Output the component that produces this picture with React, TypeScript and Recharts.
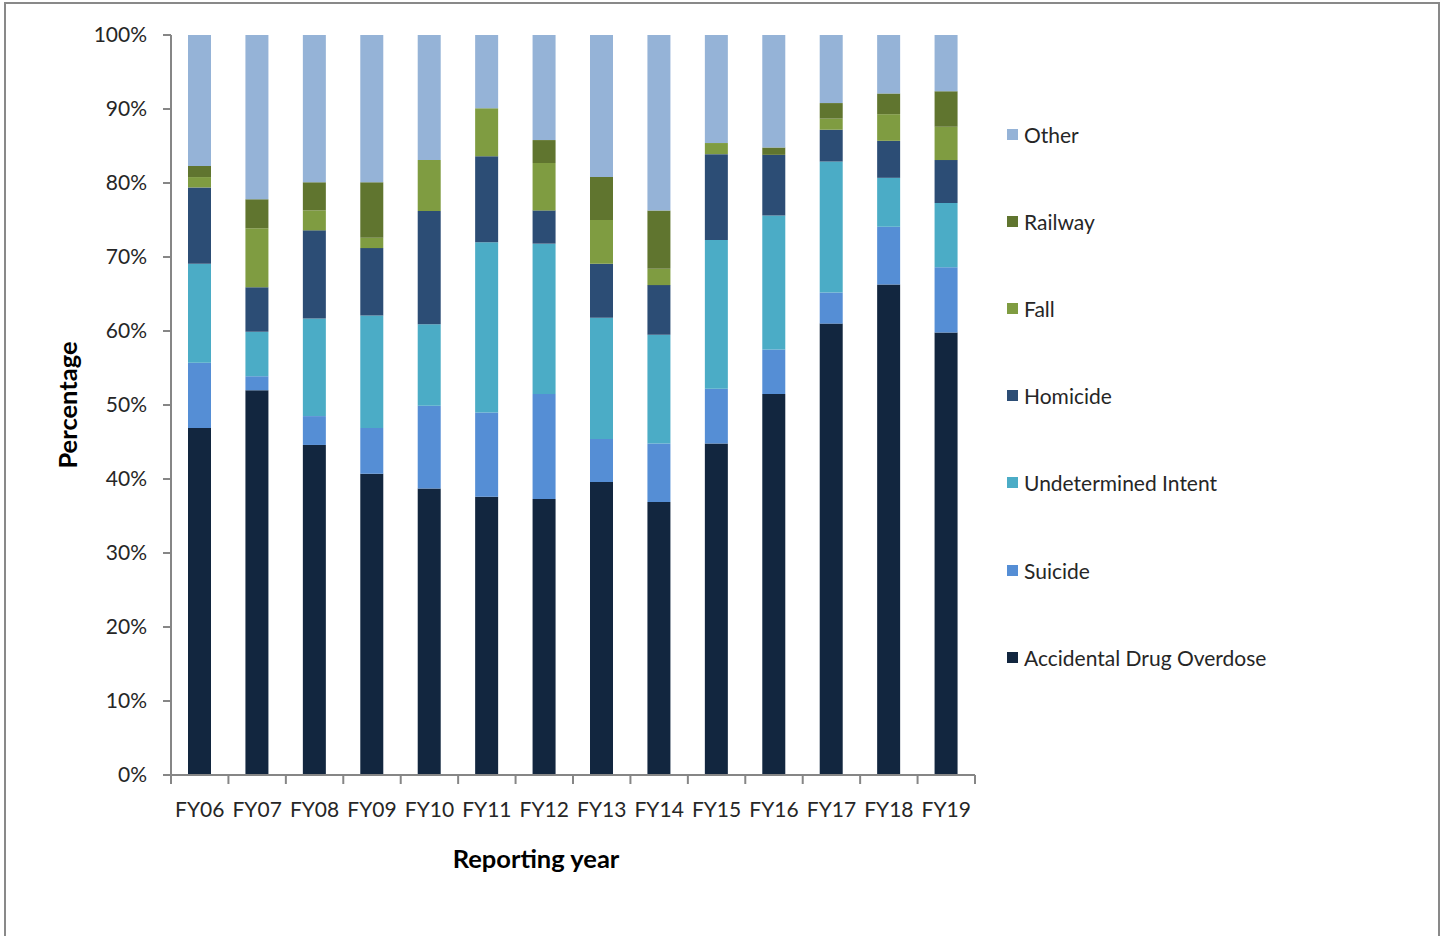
import * as React from "react";
import { BarChart, Bar, XAxis, YAxis, Legend } from "recharts";

// Reporting years and the share (%) of each cause
const years = ["FY06", "FY07", "FY08", "FY09", "FY10", "FY11", "FY12", "FY13", "FY14", "FY15", "FY16", "FY17", "FY18", "FY19"];
const accidental = [46.9, 52.0, 44.6, 40.7, 38.7, 37.6, 37.3, 39.6, 36.9, 44.8, 51.5, 61.0, 66.3, 59.8];
const suicide = [8.8, 1.9, 3.9, 6.2, 11.2, 11.4, 14.2, 5.8, 7.9, 7.4, 6.0, 4.2, 7.8, 8.8];
const undetermined = [13.4, 6.0, 13.2, 15.2, 11.0, 23.0, 20.3, 16.4, 14.7, 20.1, 18.1, 17.7, 6.6, 8.7];
const homicide = [10.3, 6.0, 11.9, 9.1, 15.3, 11.6, 4.5, 7.3, 6.7, 11.6, 8.2, 4.3, 5.0, 5.8];
const fall = [1.4, 8.0, 2.7, 1.4, 6.9, 6.5, 6.4, 5.9, 2.2, 1.5, 0, 1.5, 3.6, 4.5];
const railway = [1.5, 3.9, 3.8, 7.5, 0, 0, 3.1, 5.8, 7.9, 0, 1.0, 2.1, 2.8, 4.8];
const other = [17.7, 22.2, 19.9, 19.9, 16.9, 9.9, 14.2, 19.2, 23.7, 14.6, 15.2, 9.2, 7.9, 7.6];

const yTicks = [0, 10, 20, 30, 40, 50, 60, 70, 80, 90, 100];

const series = [
  { key: "accidental", name: "Accidental Drug Overdose", color: "#12263f", values: accidental },
  { key: "suicide", name: "Suicide", color: "#558ed5", values: suicide },
  { key: "undetermined", name: "Undetermined Intent", color: "#4bacc6", values: undetermined },
  { key: "homicide", name: "Homicide", color: "#2c4d75", values: homicide },
  { key: "fall", name: "Fall", color: "#7f9c41", values: fall },
  { key: "railway", name: "Railway", color: "#60752f", values: railway },
  { key: "other", name: "Other", color: "#95b3d7", values: other },
];

const rows = years.map((year, i) => {
  const row: Record<string, any> = { year };
  series.forEach((s) => (row[s.key] = s.values[i]));
  return row;
});

const FONT = "Lato, 'Open Sans', sans-serif";
const TEXT = "#262626";
const AXIS = "#868686";

// chart geometry
const W = 1443;
const H = 936;
const margin = { top: 35, right: 468, bottom: 0, left: 0 };
const plotWidth = W - margin.left - margin.right - 171;
const step = plotWidth / years.length;
const TICK_MARGIN = 27;

// Excel-style category ticks sit between the columns, not under them
function YearTick(props: any) {
  const { x, y, payload, index } = props;
  const axisY = y - TICK_MARGIN;
  return (
    <g>
      <line x1={x - step / 2} x2={x - step / 2} y1={axisY} y2={axisY + 9} stroke={AXIS} strokeWidth={2} />
      {index === years.length - 1 && (
        <line x1={x + step / 2} x2={x + step / 2} y1={axisY} y2={axisY + 9} stroke={AXIS} strokeWidth={2} />
      )}
      <text x={x} y={y} dy="0.71em" textAnchor="middle" fill={TEXT} fontSize={21} fontFamily={FONT}>
        {payload.value}
      </text>
    </g>
  );
}

// legend reads top-down in reverse stack order (Other first)
function RightLegend({ payload }: any) {
  const order = series.map((s) => s.name);
  const items = [...(payload || [])].sort((a: any, b: any) => order.indexOf(b.value) - order.indexOf(a.value));
  return (
    <div style={{ fontFamily: FONT, fontSize: 21, color: TEXT }}>
      {items.map((it: any) => (
        <div key={it.value} style={{ height: 87.1, display: "flex", alignItems: "center" }}>
          <span style={{ display: "inline-block", width: 11, height: 11, background: it.color, marginRight: 6 }} />
          <span>{it.value}</span>
        </div>
      ))}
    </div>
  );
}

export default function App() {
  return (
    <div style={{ position: "absolute", left: 0, top: 0, width: W, height: H, overflow: "hidden", background: "#fff" }}>
      <div
        style={{
          position: "absolute",
          left: 4,
          top: 2,
          width: 1432,
          height: 960,
          border: "2px solid #898989",
        }}
      />
      <div style={{ position: "absolute", left: 0, top: 0 }}>
        <BarChart width={W} height={H} data={rows} margin={margin} barSize={23}>
          <XAxis
            dataKey="year"
            height={161}
            axisLine={{ stroke: AXIS, strokeWidth: 2 }}
            tickLine={false}
            tickSize={0}
            tickMargin={TICK_MARGIN}
            tick={<YearTick />}
            interval={0}
            label={{
              value: "Reporting year",
              position: "insideBottom",
              offset: 68,
              dx: -37,
              style: { fontFamily: FONT, fontSize: 25.5, fontWeight: 700, fill: "#000" },
            }}
          />
          <YAxis
            width={171}
            domain={[0, 100]}
            ticks={yTicks}
            tickFormatter={(v: number) => `${v}%`}
            axisLine={{ stroke: AXIS, strokeWidth: 2 }}
            tickLine={{ stroke: AXIS, strokeWidth: 2 }}
            tickSize={8}
            tickMargin={16}
            tick={{ fontFamily: FONT, fontSize: 21, fill: TEXT }}
            label={{
              value: "Percentage",
              angle: -90,
              position: "insideLeft",
              offset: 68,
              style: { textAnchor: "middle", fontFamily: FONT, fontSize: 25.5, fontWeight: 700, fill: "#000" },
            }}
          />
          <Legend
            layout="vertical"
            align="center"
            verticalAlign="middle"
            itemSorter={null as any}
            content={<RightLegend />}
            wrapperStyle={{ left: 1007, top: 91, width: 320 }}
          />
          {series.map((s) => (
            <Bar key={s.key} dataKey={s.key} name={s.name} stackId="a" fill={s.color} isAnimationActive={false} />
          ))}
        </BarChart>
      </div>
    </div>
  );
}
